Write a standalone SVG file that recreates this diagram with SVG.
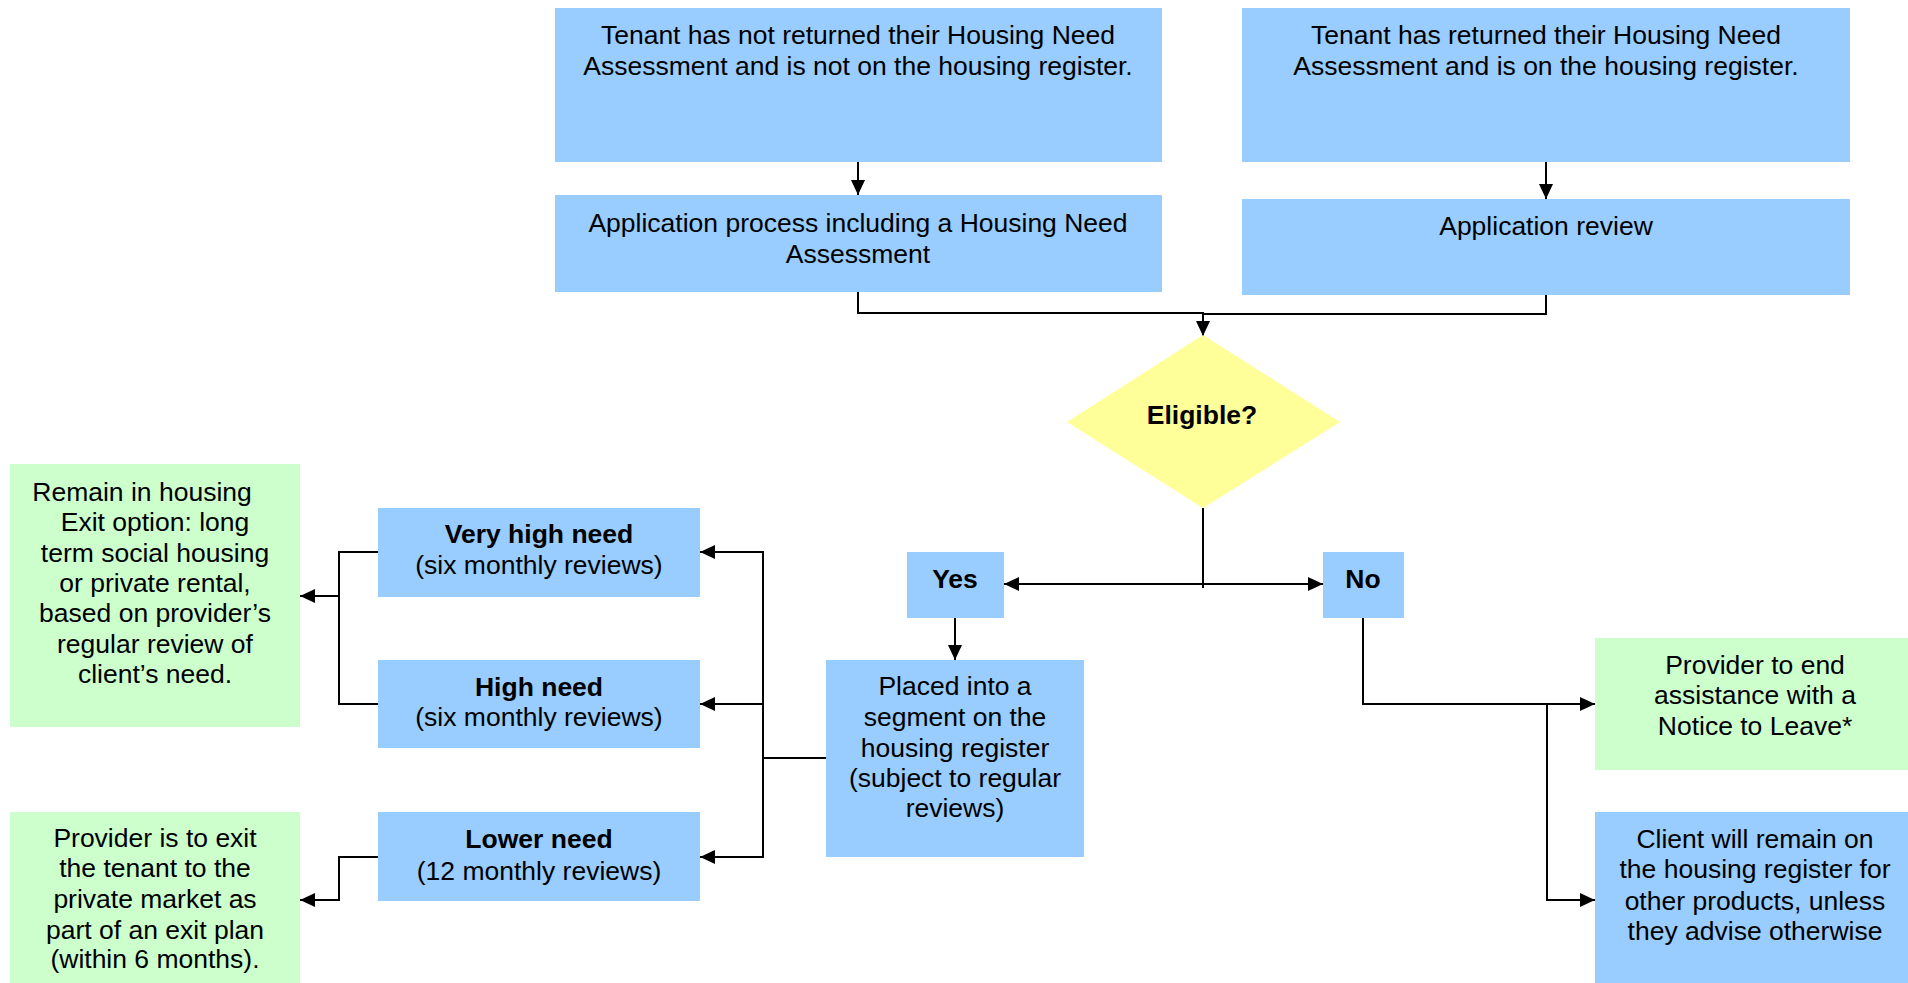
<svg xmlns="http://www.w3.org/2000/svg" width="1908" height="983" viewBox="0 0 1908 983">
  <style>
    .blue { fill: #99CCFF; }
    .green { fill: #CCFFCC; }
    .yellow { fill: #FFFF99; }
    text { font-family: "Liberation Sans", Arial, sans-serif; font-size: 26.5px; fill: #000; text-anchor: middle; }
    .b { font-weight: bold; }
    .wire { fill: none; stroke: #000; stroke-width: 2; }
  </style>
  <defs>
    <marker id="arrow" markerUnits="userSpaceOnUse" markerWidth="16" markerHeight="14" refX="15" refY="7" orient="auto-start-reverse">
      <path d="M0,0 L15,7 L0,14 z" fill="#000"/>
    </marker>
  </defs>
  <rect width="1908" height="983" fill="#fff"/>

  <g id="connectors" class="wire">
    <line x1="858" y1="161" x2="858" y2="195" marker-end="url(#arrow)"/>
    <line x1="1546" y1="161" x2="1546" y2="199" marker-end="url(#arrow)"/>
    <polyline points="858,292 858,313 1203,313 1203,336" marker-end="url(#arrow)"/>
    <polyline points="1546,295 1546,314 1203,314"/>
    <line x1="1203" y1="508" x2="1203" y2="588"/>
    <line x1="1004" y1="584" x2="1323" y2="584" marker-start="url(#arrow)" marker-end="url(#arrow)"/>
    <line x1="955" y1="618" x2="955" y2="660" marker-end="url(#arrow)"/>
    <line x1="826" y1="758" x2="763" y2="758"/>
    <line x1="763" y1="551" x2="763" y2="858"/>
    <line x1="763" y1="552" x2="700" y2="552" marker-end="url(#arrow)"/>
    <line x1="763" y1="704" x2="700" y2="704" marker-end="url(#arrow)"/>
    <line x1="763" y1="857" x2="700" y2="857" marker-end="url(#arrow)"/>
    <polyline points="378,552 339,552 339,704 378,704"/>
    <line x1="339" y1="596" x2="300" y2="596" marker-end="url(#arrow)"/>
    <polyline points="378,857 339,857 339,900 300,900" marker-end="url(#arrow)"/>
    <polyline points="1363,618 1363,704 1595,704" marker-end="url(#arrow)"/>
    <polyline points="1547,705 1547,900 1595,900" marker-end="url(#arrow)"/>
  </g>

  <g id="not-returned">
    <rect class="blue" x="555" y="8" width="607" height="154"/>
    <text x="858" y="44">Tenant has not returned their Housing Need</text>
    <text x="858" y="75">Assessment and is not on the housing register.</text>
  </g>

  <g id="returned">
    <rect class="blue" x="1242" y="8" width="608" height="154"/>
    <text x="1546" y="44">Tenant has returned their Housing Need</text>
    <text x="1546" y="75">Assessment and is on the housing register.</text>
  </g>

  <g id="application-process">
    <rect class="blue" x="555" y="195" width="607" height="97"/>
    <text x="858" y="232">Application process including a Housing Need</text>
    <text x="858" y="263">Assessment</text>
  </g>

  <g id="application-review">
    <rect class="blue" x="1242" y="199" width="608" height="96"/>
    <text x="1546" y="235">Application review</text>
  </g>

  <g id="eligible">
    <polygon class="yellow" points="1203,335 1340,422 1203,508 1067,422"/>
    <text class="b" x="1202" y="424">Eligible?</text>
  </g>

  <g id="yes">
    <rect class="blue" x="907" y="552" width="97" height="66"/>
    <text class="b" x="955" y="588">Yes</text>
  </g>

  <g id="no">
    <rect class="blue" x="1323" y="552" width="81" height="66"/>
    <text class="b" x="1363" y="588">No</text>
  </g>

  <g id="placed">
    <rect class="blue" x="826" y="660" width="258" height="197"/>
    <text x="955" y="695">Placed into a</text>
    <text x="955" y="726">segment on the</text>
    <text x="955" y="757">housing register</text>
    <text x="955" y="787">(subject to regular</text>
    <text x="955" y="817">reviews)</text>
  </g>

  <g id="very-high-need">
    <rect class="blue" x="378" y="508" width="322" height="89"/>
    <text class="b" x="539" y="543">Very high need</text>
    <text x="539" y="574">(six monthly reviews)</text>
  </g>

  <g id="high-need">
    <rect class="blue" x="378" y="660" width="322" height="88"/>
    <text class="b" x="539" y="696">High need</text>
    <text x="539" y="726">(six monthly reviews)</text>
  </g>

  <g id="lower-need">
    <rect class="blue" x="378" y="812" width="322" height="89"/>
    <text class="b" x="539" y="848">Lower need</text>
    <text x="539" y="880">(12 monthly reviews)</text>
  </g>

  <g id="remain-in-housing">
    <rect class="green" x="10" y="464" width="290" height="263"/>
    <text x="142" y="501">Remain in housing</text>
    <text x="155" y="531">Exit option: long</text>
    <text x="155" y="562">term social housing</text>
    <text x="155" y="592">or private rental,</text>
    <text x="155" y="622">based on provider’s</text>
    <text x="155" y="653">regular review of</text>
    <text x="155" y="683">client’s need.</text>
  </g>

  <g id="exit-private-market">
    <rect class="green" x="10" y="812" width="290" height="171"/>
    <text x="155" y="847">Provider is to exit</text>
    <text x="155" y="877">the tenant to the</text>
    <text x="155" y="908">private market as</text>
    <text x="155" y="939">part of an exit plan</text>
    <text x="155" y="968">(within 6 months).</text>
  </g>

  <g id="notice-to-leave">
    <rect class="green" x="1595" y="638" width="313" height="132"/>
    <text x="1755" y="674">Provider to end</text>
    <text x="1755" y="704">assistance with a</text>
    <text x="1755" y="735">Notice to Leave*</text>
  </g>

  <g id="remain-on-register">
    <rect class="blue" x="1595" y="812" width="313" height="171"/>
    <text x="1755" y="848">Client will remain on</text>
    <text x="1755" y="878">the housing register for</text>
    <text x="1755" y="910">other products, unless</text>
    <text x="1755" y="940">they advise otherwise</text>
  </g>
</svg>
